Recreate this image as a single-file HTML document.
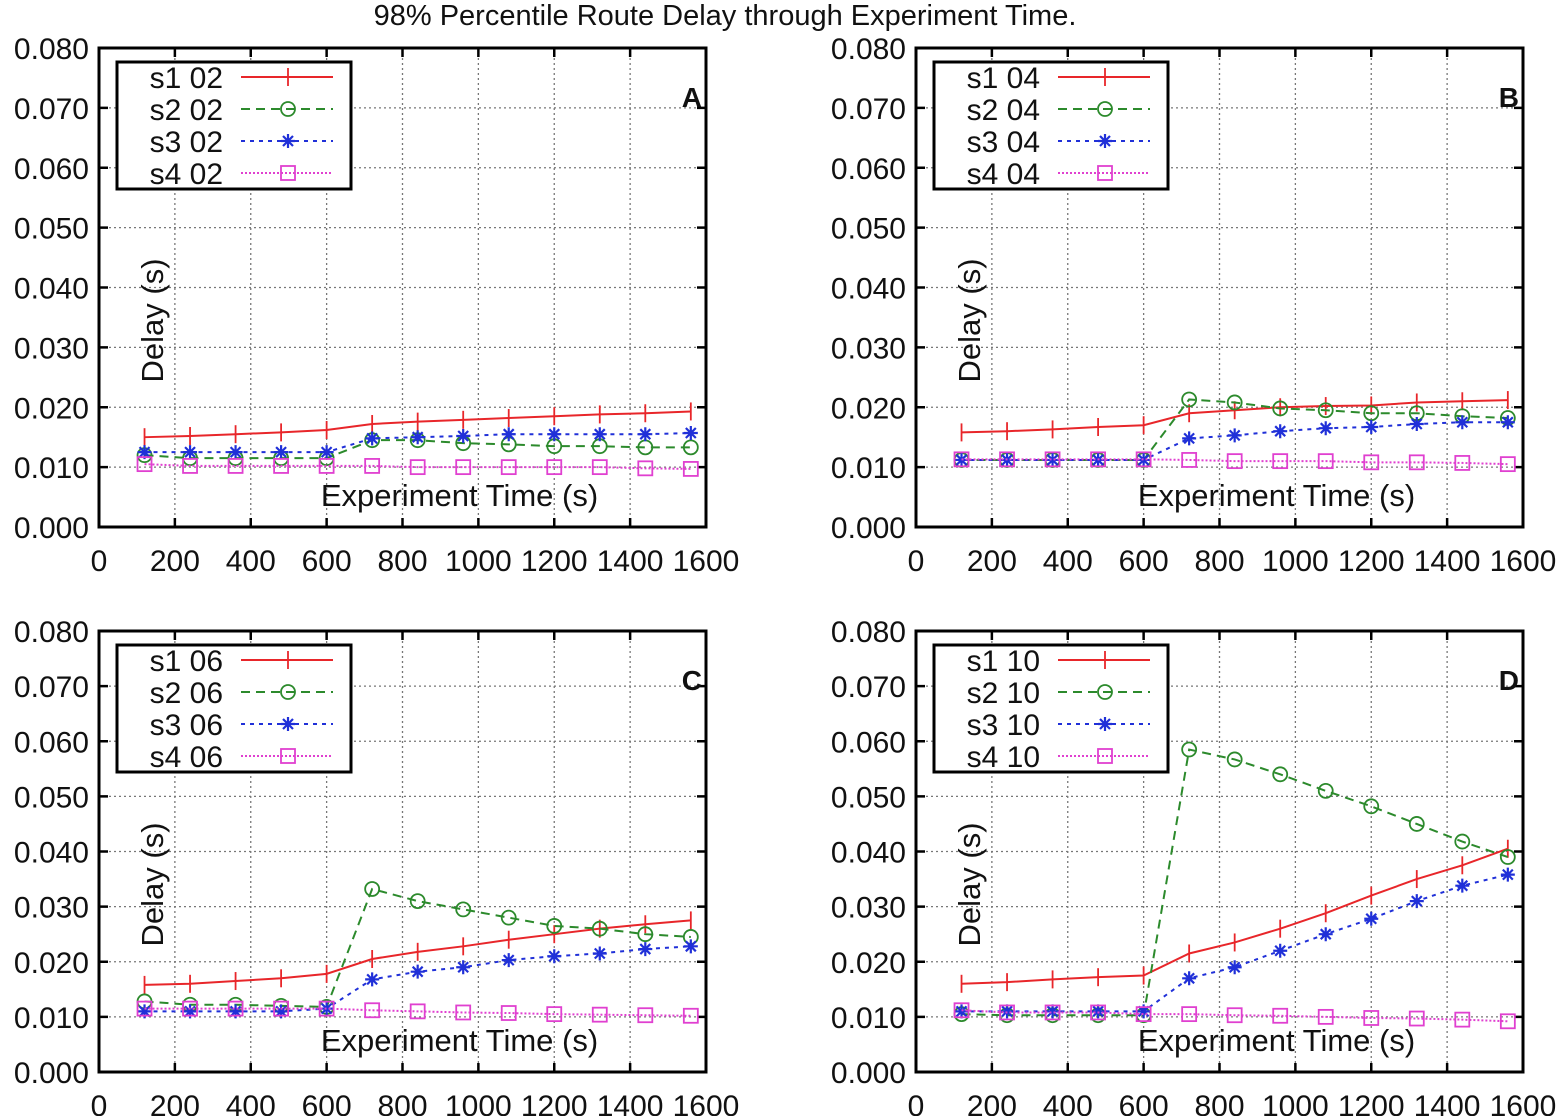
<!DOCTYPE html>
<html><head><meta charset="utf-8"><style>
body{margin:0;background:#fff}
svg{display:block;font-family:"Liberation Sans",sans-serif}
</style></head><body>
<svg id="chart" width="1560" height="1116" viewBox="0 0 1560 1116">
<text x="725" y="25" font-size="29" text-anchor="middle" fill="#111">98% Percentile Route Delay through Experiment Time.</text>
</svg>
<script>
const xValues=[120,240,360,480,600,720,840,960,1080,1200,1320,1440,1560];
const xTicks=[0,200,400,600,800,1000,1200,1400,1600];
const yTicks=[0,0.01,0.02,0.03,0.04,0.05,0.06,0.07,0.08];
const yTickLabels=["0.000","0.010","0.020","0.030","0.040","0.050","0.060","0.070","0.080"];
const panelLetters=["A","B","C","D"];
const panelSuffix=["02","04","06","10"];
const seriesNames=["s1","s2","s3","s4"];
const a_s1=[.015,.0152,.0155,.0158,.0162,.0172,.0176,.0179,.0182,.0185,.0188,.019,.0193];
const a_s2=[.012,.0115,.0115,.0115,.0115,.0145,.0145,.014,.0138,.0135,.0135,.0133,.0133];
const a_s3=[.0125,.0125,.0125,.0125,.0125,.0148,.015,.0152,.0155,.0155,.0155,.0155,.0157];
const a_s4=[.0105,.0102,.0102,.0102,.0102,.0102,.01,.01,.01,.01,.01,.0098,.0097];
const b_s1=[.0158,.016,.0163,.0167,.017,.019,.0195,.02,.0202,.0203,.0208,.021,.0212];
const b_s2=[.0112,.0112,.0112,.0112,.0112,.0213,.0208,.0198,.0195,.019,.019,.0185,.0182];
const b_s3=[.0112,.0112,.0112,.0112,.0112,.0148,.0153,.016,.0165,.0167,.0172,.0175,.0175];
const b_s4=[.0113,.0113,.0113,.0113,.0113,.0112,.011,.011,.011,.0108,.0108,.0107,.0105];
const c_s1=[.0158,.016,.0165,.017,.0178,.0205,.0218,.0228,.024,.025,.026,.0268,.0275];
const c_s2=[.0128,.0122,.0122,.012,.0118,.0332,.031,.0295,.028,.0265,.026,.025,.0245];
const c_s3=[.011,.011,.011,.011,.0115,.0168,.0182,.019,.0203,.021,.0215,.0223,.0228];
const c_s4=[.0115,.0115,.0115,.0115,.0115,.0112,.011,.0108,.0107,.0105,.0104,.0103,.0102];
const d_s1=[.016,.0163,.0168,.0172,.0175,.0215,.0235,.026,.0288,.032,.035,.0375,.0405];
const d_s2=[.0105,.0103,.0103,.0103,.0103,.0585,.0567,.054,.051,.0482,.045,.0418,.039];
const d_s3=[.011,.011,.011,.011,.011,.017,.019,.022,.025,.0278,.031,.0338,.0358];
const d_s4=[.0112,.0108,.0108,.0108,.0105,.0105,.0103,.0102,.01,.0098,.0097,.0095,.0092];
const panelData=[[a_s1,a_s2,a_s3,a_s4],[b_s1,b_s2,b_s3,b_s4],[c_s1,c_s2,c_s3,c_s4],[d_s1,d_s2,d_s3,d_s4]];

const NS="http://www.w3.org/2000/svg";
const svg=document.getElementById('chart');
const colors=["#e8262a","#2c8a2c","#2030d8","#e040d0"];
const dashes=["","9,6","4,5","2,2"];
const boxes=[{l:99,r:706,t:48,b:527},{l:916,r:1523,t:48,b:527},{l:99,r:706,t:631,b:1072},{l:916,r:1523,t:631,b:1072}];
function mk(tag,attrs,parent){const e=document.createElementNS(NS,tag);for(const k in attrs)e.setAttribute(k,attrs[k]);(parent||svg).appendChild(e);return e;}
function marker(g,i,x,y){
  const c=colors[i];
  if(i===0){mk('line',{x1:x,y1:y-9,x2:x,y2:y+9,stroke:c,'stroke-width':1.8},g);}
  else if(i===1){mk('circle',{cx:x,cy:y,r:7,fill:'none',stroke:c,'stroke-width':1.8},g);}
  else if(i===2){const s=7;mk('path',{d:`M${x-s},${y}H${x+s}M${x},${y-s}V${y+s}M${x-5},${y-5}L${x+5},${y+5}M${x-5},${y+5}L${x+5},${y-5}`,stroke:c,'stroke-width':2.2},g);}
  else {mk('rect',{x:x-7,y:y-7,width:14,height:14,fill:'none',stroke:c,'stroke-width':1.8},g);}
}
boxes.forEach((B,p)=>{
  const g=mk('g',{});
  
  
  const xs=v=>B.l+(v/1600)*(B.r-B.l);
  const ys=v=>B.b-(v/0.08)*(B.b-B.t);
  xTicks.forEach(t=>{if(t>0&&t<1600){const l=mk('line',{x1:xs(t),y1:B.t,x2:xs(t),y2:B.b,stroke:'#777','stroke-dasharray':'2,3','stroke-width':1.3},g);}});
  yTicks.forEach(t=>{if(t>0&&t<0.08){const l=mk('line',{x1:B.l,y1:ys(t),x2:B.r,y2:ys(t),stroke:'#777','stroke-dasharray':'2,3','stroke-width':1.3},g);}});
  xTicks.forEach(t=>{
    mk('line',{x1:xs(t),y1:B.b,x2:xs(t),y2:B.b-9,stroke:'#000','stroke-width':2.5},g);
    mk('line',{x1:xs(t),y1:B.t,x2:xs(t),y2:B.t+9,stroke:'#000','stroke-width':2.5},g);
    const tx=mk('text',{x:xs(t),y:B.b+44,'font-size':30,'text-anchor':'middle',fill:'#111'},g);tx.textContent=t;
    
  });
  yTicks.forEach((t,i)=>{
    mk('line',{x1:B.l,y1:ys(t),x2:B.l+9,y2:ys(t),stroke:'#000','stroke-width':2.5},g);
    mk('line',{x1:B.r,y1:ys(t),x2:B.r-9,y2:ys(t),stroke:'#000','stroke-width':2.5},g);
    const tx=mk('text',{x:B.l-10,y:ys(t)+11,'font-size':30,'text-anchor':'end',fill:'#111'},g);tx.textContent=yTickLabels[i];
    
  });
  const fr=mk('rect',{x:B.l,y:B.t,width:B.r-B.l,height:B.b-B.t,fill:'none',stroke:'#000','stroke-width':3},g);
  
  const yt=mk('text',{x:0,y:0,'font-size':31,'text-anchor':'middle',fill:'#111',transform:`translate(${B.l+64},${(B.t+B.b)/2+33}) rotate(-90)`},g);yt.textContent='Delay (s)';
  
  const xt=mk('text',{x:(B.l+B.r)/2+57,y:B.b-21,'font-size':31,'text-anchor':'middle',fill:'#111'},g);xt.textContent='Experiment Time (s)';
  
  const lt=mk('text',{x:B.r-4,y:B.t+59,'font-size':28,'font-weight':'bold','text-anchor':'end',fill:'#111'},g);lt.textContent=panelLetters[p];
  
  panelData[p].forEach((arr,i)=>{
    const sg=mk('g',{},g);
    
    
    const pts=arr.map((v,k)=>xs(xValues[k])+','+ys(v)).join(' ');
    const pl=mk('polyline',{points:pts,fill:'none',stroke:colors[i],'stroke-width':2},sg);
    if(dashes[i])pl.setAttribute('stroke-dasharray',dashes[i]);
    arr.forEach((v,k)=>marker(sg,i,xs(xValues[k]),ys(v)));
  });
  const lg=mk('g',{},g);
  
  
  const lx=B.l+18, ly=B.t+14;
  mk('rect',{x:lx,y:ly,width:234,height:127,fill:'#fff',stroke:'#000','stroke-width':3},lg);
  seriesNames.forEach((n,i)=>{
    const ry=ly+15+i*32;
    const e=mk('g',{},lg);
    
    
    const t=mk('text',{x:lx+106,y:ry+11,'font-size':30,'text-anchor':'end',fill:'#111'},e);t.textContent=n+' '+panelSuffix[p];
    const ln=mk('line',{x1:lx+124,y1:ry,x2:lx+216,y2:ry,stroke:colors[i],'stroke-width':2},e);
    if(dashes[i])ln.setAttribute('stroke-dasharray',dashes[i]);
    marker(e,i,lx+171,ry);
  });
});
</script>
</body></html>
